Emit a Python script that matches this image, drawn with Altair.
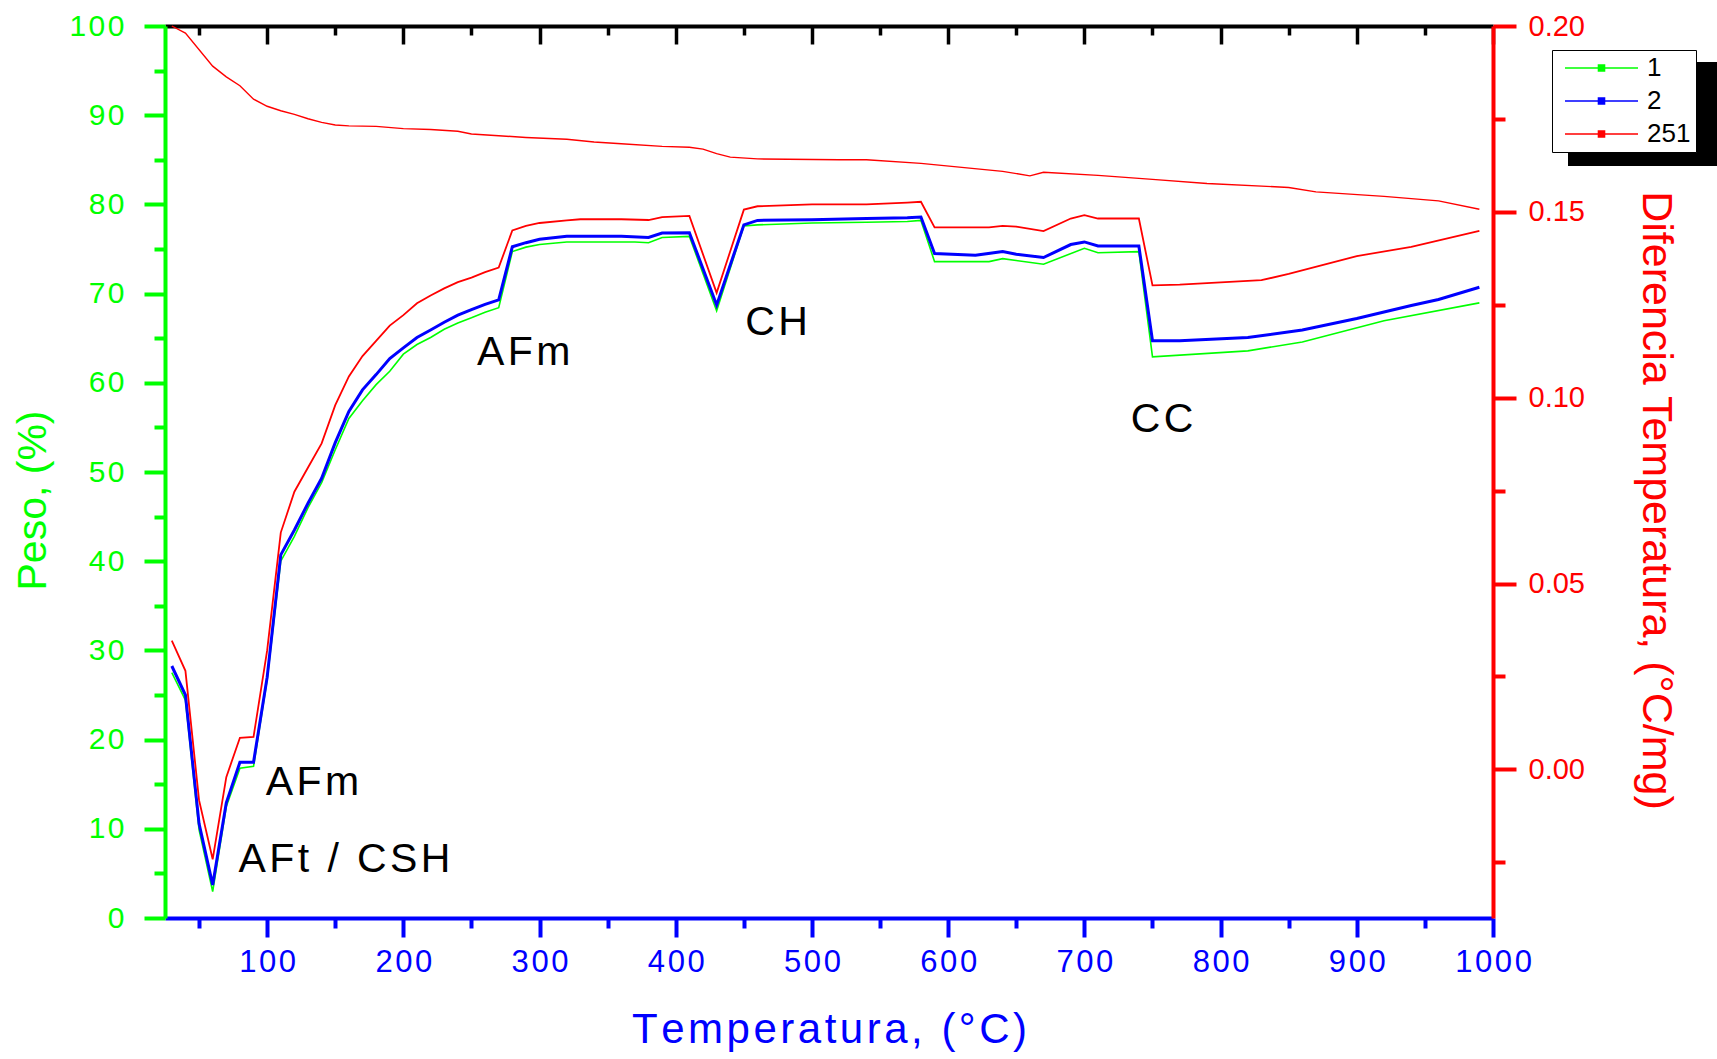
import altair as alt
import pandas as pd

FONT = "Liberation Sans"
HS = "\u200a"  # hair space used for the wide letter spacing of the original

GREEN = "#00ff00"
BLUE = "#0000ff"
RED = "#ff0000"

SERIES = ["1", "2", "251"]
SERIES_COLORS = [GREEN, BLUE, RED]

# ---- TG curve of sample 251 (left axis, Peso %) ----
TG_T = [30, 40, 60, 70, 80, 90, 100, 110, 120, 130, 140, 150, 160, 180, 200, 220, 240, 250, 270, 290,
        320, 340, 360, 390, 410, 420, 430, 440, 460, 520, 540, 580, 640, 660, 670, 710, 750, 790, 850, 870,
        920, 960, 990]
TG_W = [100.0, 99.2, 95.5, 94.3, 93.3, 91.8, 91.0, 90.5, 90.1, 89.6, 89.2, 88.9, 88.8, 88.75, 88.5, 88.4, 88.2, 87.9, 87.7, 87.5,
        87.3, 87.0, 86.8, 86.5, 86.4, 86.2, 85.7, 85.3, 85.1, 85.0, 85.0, 84.6, 83.7, 83.2, 83.6, 83.25, 82.8, 82.35, 81.9, 81.4,
        80.9, 80.4, 79.45]

# ---- DTA curves (right axis, °C/mg) ----
D1_T = list(range(30, 280, 10)) + [280, 290, 300, 320, 370, 380, 390, 410,
                                   430, 450, 460, 500, 540, 570, 580,
                                   590, 630, 640, 670, 700, 710, 740,
                                   750, 820, 860, 920, 990]
D1_V = [0.0260, 0.0186, -0.0162, -0.0329, -0.0100, 0.0003, 0.0008, 0.0241, 0.0560, 0.0627,
        0.0704, 0.0771, 0.0860, 0.0944, 0.0992, 0.1035, 0.1071, 0.1117, 0.1143, 0.1162,
        0.1184, 0.1201, 0.1215, 0.1230, 0.1242,
        0.1393, 0.1405, 0.1412, 0.1419, 0.1419, 0.1417, 0.1431, 0.1434,
        0.1234, 0.1462, 0.1465, 0.1470, 0.1472, 0.1474, 0.1477,
        0.1366, 0.1366, 0.1374, 0.1359, 0.1402, 0.1390, 0.1393,
        0.1110, 0.1126, 0.1150, 0.1207, 0.1255]

D2_T = list(range(30, 280, 10)) + [280, 290, 300, 320, 360, 380, 390, 410,
                                   430, 450, 460, 500, 540, 570, 580,
                                   590, 620, 640, 650, 670, 690, 700, 710, 740,
                                   750, 770, 820, 860, 900, 940, 960, 990]
D2_V = [0.0278, 0.0200, -0.0146, -0.0311, -0.0090, 0.0019, 0.0019, 0.0248, 0.0577, 0.0644,
        0.0716, 0.0783, 0.0879, 0.0963, 0.1021, 0.1062, 0.1105, 0.1134, 0.1162, 0.1182,
        0.1203, 0.1222, 0.1237, 0.1251, 0.1263,
        0.1406, 0.1417, 0.1426, 0.1434, 0.1434, 0.1431, 0.1443, 0.1444,
        0.1249, 0.1465, 0.1477, 0.1479, 0.1482, 0.1484, 0.1486,
        0.1388, 0.1383, 0.1393, 0.1386, 0.1377, 0.1412, 0.1419, 0.1408, 0.1408,
        0.1153, 0.1153, 0.1162, 0.1182, 0.1213, 0.1248, 0.1264, 0.1297]

D3_T = list(range(30, 280, 10)) + [280, 290, 300, 320, 330, 360, 380, 390, 410,
                                   430, 450, 460, 500, 540, 570, 580,
                                   590, 630, 640, 650, 670, 690, 700, 710, 740,
                                   750, 770, 830, 850, 900, 940, 990]
D3_V = [0.0346, 0.0265, -0.0083, -0.0242, -0.0021, 0.0085, 0.0087, 0.0320, 0.0637, 0.0747,
        0.0812, 0.0877, 0.0980, 0.1057, 0.1112, 0.1153, 0.1194, 0.1222, 0.1254, 0.1275,
        0.1294, 0.1311, 0.1323, 0.1338, 0.1350,
        0.1450, 0.1462, 0.1470, 0.1477, 0.1480, 0.1480, 0.1478, 0.1486, 0.1489,
        0.1282, 0.1506, 0.1515, 0.1520, 0.1520, 0.1525, 0.1527,
        0.1458, 0.1458, 0.1462, 0.1460, 0.1448, 0.1482, 0.1491, 0.1482, 0.1482,
        0.1302, 0.1304, 0.1316, 0.1333, 0.1381, 0.1406, 0.1449]

# ---- annotations (x in °C, y in Peso %) ----
ANN_T = [254, 99, 79, 451, 734]
ANN_W = [63.3, 15.1, 6.45, 66.7, 55.8]
ANN_TEXT = ["AFm", "AFm", "AFt / CSH", "CH", "CC"]

# ---- ticks ----
X_MAJOR = list(range(100, 1001, 100))
X_MINOR = list(range(50, 1000, 100))
YL_MAJOR = list(range(0, 101, 10))
YL_MINOR = list(range(5, 100, 10))
YR_MAJOR = [0.0, 0.05, 0.10, 0.15, 0.20]
YR_MINOR = [-0.025, 0.025, 0.075, 0.125, 0.175]

X_DOMAIN = [25, 1000]
YL_DOMAIN = [0, 100]
YR_DOMAIN = [-0.04, 0.20]

W, H = 1328, 892

tg = pd.DataFrame({"t": TG_T, "v": TG_W, "s": "251"})
d1 = pd.DataFrame({"t": D1_T, "v": D1_V, "s": "1"})
d2 = pd.DataFrame({"t": D2_T, "v": D2_V, "s": "2"})
d3 = pd.DataFrame({"t": D3_T, "v": D3_V, "s": "251"})
ann = pd.DataFrame({"t": ANN_T, "v": ANN_W, "label": [HS.join(s) for s in ANN_TEXT]})

spaced_expr = f"join(split(datum.label, ''), '{HS}')"


def xs():
    return alt.Scale(domain=X_DOMAIN, nice=False, zero=False)


def yls():
    return alt.Scale(domain=YL_DOMAIN, nice=False, zero=False)


def yrs():
    return alt.Scale(domain=YR_DOMAIN, nice=False, zero=False)


legend = alt.Legend(
    title=None, orient="none", legendX=1387, legendY=24,
    fillColor="white", strokeColor="black", padding=5,
    labelFont=FONT, labelFontSize=26, labelColor="black", labelOffset=64,
    labelExpr="datum.label + '\u2002\u2009'",
    symbolType="M-0.5,0H6.8M2.85,-0.3H3.45V0.3H2.85ZM3.0,-0.15H3.3V0.15H3.0Z",
    symbolSize=400, symbolStrokeWidth=1.6, rowPadding=7,
)
color = alt.Color("s:N", scale=alt.Scale(domain=SERIES, range=SERIES_COLORS), legend=legend)

ax_bottom = alt.Axis(
    orient="bottom", values=X_MAJOR, format="d", labelExpr=spaced_expr,
    title=HS.join("Temperatura, (°C)"), titleColor=BLUE, titleFontSize=42, titlePadding=32,
    labelColor=BLUE, labelFontSize=31, labelPadding=10, labelFlush=False, labelOverlap=False,
    domainColor=BLUE, domainWidth=4, tickColor=BLUE, tickWidth=4, tickSize=19, grid=False)
ax_bottom_minor = alt.Axis(
    orient="bottom", values=X_MINOR, labels=False, domain=False, title=None,
    tickColor=BLUE, tickWidth=4, tickSize=10, grid=False)
ax_top = alt.Axis(
    orient="bottom", offset=-H, values=X_MAJOR, labels=False, title=None,
    domainColor="black", domainWidth=4, tickColor="black", tickWidth=3.5, tickSize=18, grid=False)
ax_top_minor = alt.Axis(
    orient="bottom", offset=-H, values=X_MINOR, labels=False, domain=False, title=None,
    tickColor="black", tickWidth=3.5, tickSize=9, grid=False)

ax_left = alt.Axis(
    orient="left", values=YL_MAJOR, format="d", labelExpr=spaced_expr,
    title="Peso, (%)", titleColor=GREEN, titleFontSize=41, titlePadding=14, titleY=474,
    labelColor=GREEN, labelFontSize=30, labelPadding=20, labelFlush=False, labelOverlap=False,
    domainColor=GREEN, domainWidth=4, tickColor=GREEN, tickWidth=4, tickSize=21, grid=False)
ax_left_minor = alt.Axis(
    orient="left", values=YL_MINOR, labels=False, domain=False, title=None,
    tickColor=GREEN, tickWidth=4, tickSize=11, grid=False)
ax_right = alt.Axis(
    orient="right", values=YR_MAJOR, format=".2f",
    title="Diferencia Temperatura, (°C/mg)", titleColor=RED, titleFontSize=43, titlePadding=49, titleY=474,
    labelColor=RED, labelFontSize=29, labelPadding=12, labelFlush=False, labelOverlap=False,
    domainColor=RED, domainWidth=4, tickColor=RED, tickWidth=4, tickSize=23, grid=False)
ax_right_minor = alt.Axis(
    orient="right", values=YR_MINOR, labels=False, domain=False, title=None,
    tickColor=RED, tickWidth=4, tickSize=12, grid=False)

shadow = alt.Chart(pd.DataFrame({"k": [0]})).mark_rect(color="black").encode(
    x=alt.value(1403), x2=alt.value(1560), y=alt.value(36), y2=alt.value(140))

tg_layer = alt.Chart(tg).mark_line(strokeWidth=1.4).encode(
    x=alt.X("t:Q", scale=xs(), axis=ax_bottom),
    y=alt.Y("v:Q", scale=yls(), axis=ax_left),
    color=color)

g_layer = alt.Chart(d1).mark_line(strokeWidth=1.6).encode(
    x=alt.X("t:Q", scale=xs(), axis=ax_bottom_minor),
    y=alt.Y("v:Q", scale=yrs(), axis=ax_right),
    color=color)

b_layer = alt.Chart(d2).mark_line(strokeWidth=3).encode(
    x=alt.X("t:Q", scale=xs(), axis=ax_top),
    y=alt.Y("v:Q", scale=yrs(), axis=ax_right_minor),
    color=color)

r_layer = alt.Chart(d3).mark_line(strokeWidth=1.8).encode(
    x=alt.X("t:Q", scale=xs(), axis=ax_top_minor),
    y=alt.Y("v:Q", scale=yrs(), axis=None),
    color=color)

minor_left = alt.Chart(tg).mark_line(opacity=0).encode(
    x=alt.X("t:Q", scale=xs(), axis=None),
    y=alt.Y("v:Q", scale=yls(), axis=ax_left_minor))

text_layer = alt.Chart(ann).mark_text(
    align="left", baseline="middle", font=FONT, fontSize=41, color="black").encode(
    x=alt.X("t:Q", scale=xs(), axis=None),
    y=alt.Y("v:Q", scale=yls(), axis=None),
    text="label:N")

chart = alt.layer(
    shadow, tg_layer, g_layer, b_layer, r_layer, minor_left, text_layer
).resolve_scale(
    x="independent", y="independent"
).properties(
    width=W, height=H,
    padding={"left": 165, "top": 26, "right": 224, "bottom": 141},
    autosize=alt.AutoSizeParams(type="none"),
    background="white",
).configure_view(
    stroke=None
).configure_axis(
    labelFont=FONT, titleFont=FONT, titleFontWeight="normal"
)

chart.save("out.html", embed_options={"renderer": "svg", "actions": False})
